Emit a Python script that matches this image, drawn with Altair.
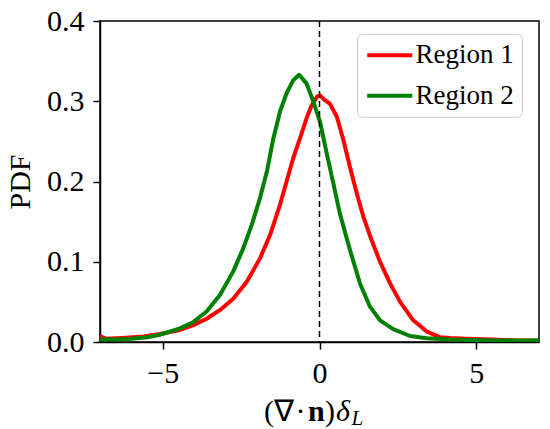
import altair as alt
import pandas as pd

# Region 1 (red)
red_x = [-7.0, -6.8, -6.3, -5.6, -5.09, -4.45, -4.02, -3.60, -3.17, -2.75, -2.32, -1.90, -1.58,
         -1.26, -1.05, -0.84, -0.62, -0.41, -0.25, -0.07, 0.02, 0.15, 0.33, 0.55, 0.76, 0.97,
         1.19, 1.40, 1.66, 1.93, 2.25, 2.57, 2.99, 3.42, 3.84, 4.16, 4.7, 5.5, 6.3, 7.0]
red_y = [0.0075, 0.004, 0.005, 0.007, 0.010, 0.015, 0.021, 0.029, 0.040, 0.054, 0.075, 0.104, 0.133,
         0.171, 0.200, 0.229, 0.254, 0.279, 0.295, 0.306, 0.307, 0.302, 0.297, 0.281, 0.252, 0.218,
         0.185, 0.156, 0.127, 0.100, 0.073, 0.050, 0.027, 0.013, 0.006, 0.005, 0.004, 0.003, 0.002, 0.002]

# Region 2 (green)
green_x = [-7.0, -6.5, -6.0, -5.5, -5.09, -4.45, -4.02, -3.60, -3.17, -2.75, -2.43, -2.16, -1.90,
           -1.68, -1.47, -1.26, -1.05, -0.84, -0.65, -0.41, -0.20, 0.02, 0.23, 0.44, 0.65, 0.97,
           1.29, 1.61, 1.93, 2.35, 2.89, 3.42, 4.2, 5.5, 7.0]
green_y = [0.003, 0.003, 0.004, 0.006, 0.009, 0.017, 0.025, 0.038, 0.059, 0.088, 0.117, 0.146, 0.179,
           0.212, 0.254, 0.287, 0.310, 0.326, 0.333, 0.322, 0.300, 0.274, 0.235, 0.198, 0.160, 0.115,
           0.073, 0.044, 0.027, 0.016, 0.0075, 0.0046, 0.003, 0.002, 0.002]

series_names = ["Region 1", "Region 2"]
series_colors = ["#ff0000", "#008000"]
x_ticks = [-5, 0, 5]
y_ticks = [0.0, 0.1, 0.2, 0.3, 0.4]

df = pd.concat([
    pd.DataFrame({"x": red_x, "y": red_y, "series": series_names[0]}),
    pd.DataFrame({"x": green_x, "y": green_y, "series": series_names[1]}),
])

FONT = "Liberation Serif"

lines = alt.Chart(df).mark_line(strokeWidth=4, clip=True, strokeJoin="round").encode(
    x=alt.X("x:Q", scale=alt.Scale(domain=[-7, 7], nice=False, zero=False),
            axis=alt.Axis(values=x_ticks, title=None, grid=False, format="d")),
    y=alt.Y("y:Q", scale=alt.Scale(domain=[0, 0.4], nice=False),
            axis=alt.Axis(values=y_ticks, format=".1f", grid=False, title="PDF",
                          titleAngle=270, titleX=-71, titleY=160.5, titleAlign="center",
                          titleBaseline="alphabetic", titleFontSize=30, titleFontWeight="normal",
                          titleFont=FONT, titleColor="black")),
    color=alt.Color("series:N", scale=alt.Scale(domain=series_names, range=series_colors),
                    legend=alt.Legend(title=None, orient="none", legendX=257, legendY=12.75,
                                      symbolType="M-1,0L3,0", symbolSize=506, symbolStrokeWidth=4,
                                      labelFont=FONT, labelFontSize=27, labelColor="black",
                                      labelOffset=23.5, padding=8, rowPadding=12.5,
                                      strokeColor="#cccccc", fillColor="white", cornerRadius=5)),
)

zero_line = alt.Chart(pd.DataFrame({"x": [0]})).mark_rule(
    color="black", strokeWidth=1.5, strokeDash=[6, 4]
).encode(x="x:Q")

def piece(text, x, y, size=30, style="normal", weight="normal", align="left"):
    return alt.Chart(pd.DataFrame({"t": [text]})).mark_text(
        font=FONT, fontSize=size, fontStyle=style, fontWeight=weight, color="black",
        align=align, baseline="alphabetic", clip=False
    ).encode(x=alt.value(x), y=alt.value(y), text="t:N")

title_parts = [
    piece("(\u2207", 164, 399.7),
    piece("\u00b7", 200.5, 399.7, align="center"),
    piece("n", 208, 399.7, weight="bold"),
    piece(")", 225, 399.7),
    piece("\u03b4", 236, 399.7, style="italic"),
    piece("L", 251.5, 404, size=21, style="italic"),
]

chart = alt.layer(lines, zero_line, *title_parts).properties(
    width=439, height=321,
    padding={"left": 92, "top": 13, "right": 3, "bottom": 87},
    autosize=alt.AutoSizeParams(type="none"),
).configure_view(
    stroke="black", strokeWidth=1.5
).configure_axis(
    labelFont=FONT, labelFontSize=30, labelColor="black",
    tickColor="black", tickSize=7, tickWidth=1.5,
    domainColor="black", domainWidth=1.5, labelPadding=9,
)

chart.save("out.html", embed_options={"renderer": "svg", "actions": False})
